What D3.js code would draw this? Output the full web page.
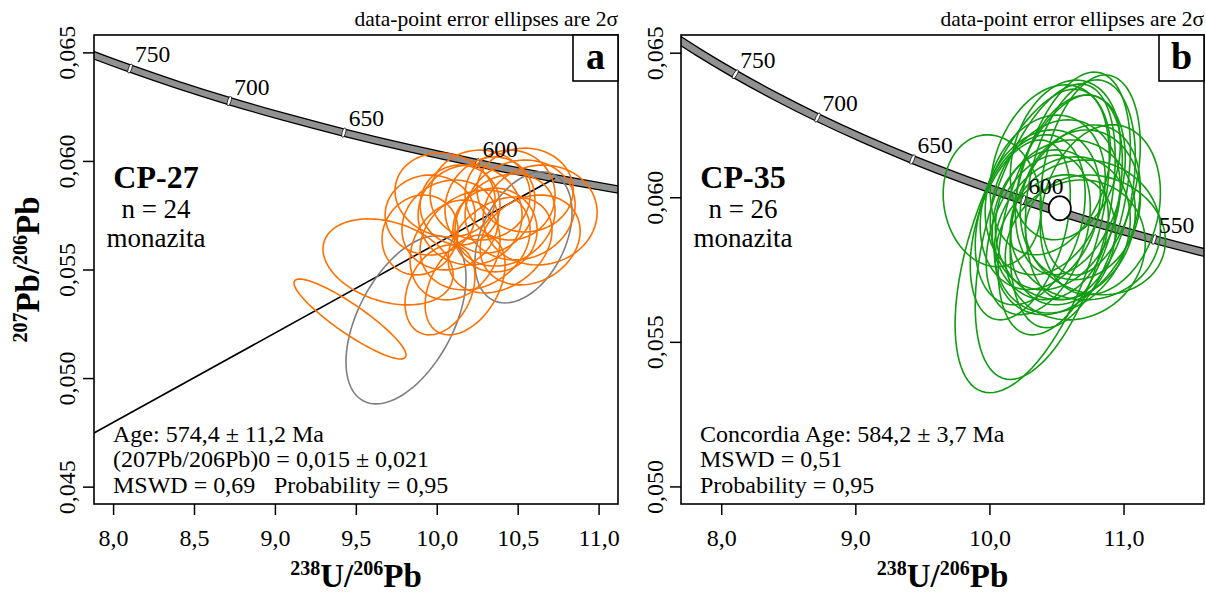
<!DOCTYPE html>
<html><head><meta charset="utf-8">
<script src="https://cdn.jsdelivr.net/npm/d3@7"></script>
<style>
body{margin:0;background:#fff}
svg{display:block}
text{font-family:"Liberation Serif","Times New Roman",serif;fill:#000}
</style>
</head><body>
<svg id="chart" width="1206" height="596"></svg>
<script>
// ---- Concordia curve (Tera-Wasserburg), values per age (Ma)
const concordiaAges = [525, 550, 575, 600, 625, 650, 675, 700, 725, 750, 775, 800];
const concordiaX = [11.7857, 11.2279, 10.7186, 10.2518, 9.8223, 9.4260, 9.0590, 8.7182, 8.4010, 8.1049, 7.8280, 7.5683];
const concordiaY = [0.057874, 0.058539, 0.059215, 0.059901, 0.060598, 0.061307, 0.062026, 0.062757, 0.063499, 0.064254, 0.065020, 0.065797];
const ageMarkers = [550, 600, 650, 700, 750];

// ---- Axis ticks
const xTicksA = [8.0, 8.5, 9.0, 9.5, 10.0, 10.5, 11.0];
const yTicksA = [0.045, 0.050, 0.055, 0.060, 0.065];
const xTicksB = [8.0, 9.0, 10.0, 11.0];
const yTicksB = [0.050, 0.055, 0.060, 0.065];

// ---- Panel a (CP-27): error ellipses [238U/206Pb, 207Pb/206Pb, 2s x, 2s y, rho]
const cp27Orange = [
  [9.464, 0.05272, 0.346, 0.00184, -0.9],
  [9.699, 0.05535, 0.402, 0.00198, -0.3],
  [10.082, 0.05705, 0.297, 0.00207, 0.1],
  [10.206, 0.05751, 0.321, 0.00230, 0.0],
  [10.329, 0.05797, 0.278, 0.00221, 0.1],
  [10.422, 0.05728, 0.309, 0.00212, 0.2],
  [10.515, 0.05774, 0.340, 0.00230, 0.1],
  [10.639, 0.05751, 0.352, 0.00230, 0.05],
  [10.113, 0.05590, 0.278, 0.00230, 0.2],
  [10.020, 0.05406, 0.216, 0.00207, 0.3],
  [10.175, 0.05429, 0.247, 0.00230, 0.4],
  [9.959, 0.05751, 0.278, 0.00184, 0.0],
  [10.051, 0.05843, 0.309, 0.00193, -0.1],
  [10.268, 0.05843, 0.309, 0.00207, 0.0],
  [10.453, 0.05843, 0.278, 0.00207, 0.0],
  [10.391, 0.05613, 0.321, 0.00221, 0.3],
  [10.237, 0.05636, 0.340, 0.00230, 0.2],
  [10.577, 0.05636, 0.309, 0.00207, 0.2],
  [9.897, 0.05659, 0.235, 0.00184, 0.1],
  [10.360, 0.05682, 0.260, 0.00193, 0.0],
  [10.144, 0.05797, 0.247, 0.00184, 0.0],
  [10.546, 0.05866, 0.297, 0.00193, 0.0]
];
const cp27Gray = [
  [9.810, 0.05268, 0.371, 0.00387, 0.5],
  [10.536, 0.05648, 0.300, 0.00302, 0.38]
];
const discordiaX = [7.882, 10.73];
const discordiaY = [0.04747, 0.05920];

// ---- Panel b (CP-35)
const cp35Green = [
  [10.319, 0.05849, 0.575, 0.00525, 0.55],
  [10.416, 0.05881, 0.522, 0.00511, 0.5],
  [10.603, 0.05991, 0.448, 0.00442, 0.4],
  [10.678, 0.06026, 0.410, 0.00380, 0.3],
  [10.528, 0.05939, 0.463, 0.00415, 0.45],
  [10.021, 0.05988, 0.366, 0.00228, -0.1],
  [10.379, 0.05957, 0.448, 0.00276, 0.2],
  [10.491, 0.05974, 0.485, 0.00294, 0.2],
  [10.566, 0.05922, 0.522, 0.00276, 0.1],
  [10.640, 0.05939, 0.485, 0.00311, 0.3],
  [10.454, 0.05905, 0.433, 0.00259, 0.1],
  [10.715, 0.05887, 0.560, 0.00242, 0.0],
  [10.790, 0.05870, 0.522, 0.00207, -0.1],
  [10.304, 0.05922, 0.410, 0.00294, 0.3],
  [10.416, 0.06008, 0.448, 0.00276, 0.2],
  [10.603, 0.06043, 0.410, 0.00311, 0.3],
  [10.543, 0.05870, 0.507, 0.00270, 0.2],
  [10.364, 0.05870, 0.388, 0.00276, 0.35],
  [10.678, 0.05974, 0.448, 0.00259, 0.1],
  [10.752, 0.06077, 0.373, 0.00346, 0.3],
  [10.491, 0.05836, 0.448, 0.00242, 0.2],
  [10.230, 0.05887, 0.373, 0.00311, 0.4],
  [10.640, 0.05818, 0.522, 0.00242, 0.1],
  [10.827, 0.05957, 0.448, 0.00294, 0.2],
  [10.454, 0.06095, 0.448, 0.00294, 0.25],
  [10.566, 0.06129, 0.410, 0.00276, 0.2]
];
const concordiaAgeB = [10.525, 0.05962, 0.082, 0.000415, 0.0];

// ---- Texts
const sampleA = ["CP-27", "n = 24", "monazita"];
const sampleB = ["CP-35", "n = 26", "monazita"];
const statsA = ["Age: 574,4 \u00b1 11,2 Ma", "(207Pb/206Pb)0 = 0,015 \u00b1 0,021", "MSWD = 0,69", "Probability = 0,95"];
const statsB = ["Concordia Age: 584,2 \u00b1 3,7 Ma", "MSWD = 0,51", "Probability = 0,95"];
const noteText = "data-point error ellipses are 2\u03c3";

const svg = d3.select("#chart");

function fmt(d, n) { return d.toFixed(n).replace(".", ","); }

function drawPanel(cfg) {
  const g = svg.append("g");
  const x = d3.scaleLinear().domain(cfg.xDomain).range([cfg.left, cfg.right]);
  const y = d3.scaleLinear().domain(cfg.yDomain).range([cfg.bottom, cfg.top]);

  const clipId = "clip-" + cfg.id;
  svg.append("clipPath").attr("id", clipId).append("rect")
    .attr("x", cfg.left).attr("y", cfg.top)
    .attr("width", cfg.right - cfg.left).attr("height", cfg.bottom - cfg.top);
  const plot = g.append("g").attr("clip-path", `url(#${clipId})`);

  // concordia band
  const pts = concordiaX.map((v, i) => [v, concordiaY[i]]);
  const line = d3.line().x(d => x(d[0])).y(d => y(d[1])).curve(d3.curveCatmullRom);
  plot.append("path").attr("d", line(pts)).attr("fill", "none")
    .attr("stroke", "#000").attr("stroke-width", cfg.band);
  plot.append("path").attr("d", line(pts)).attr("fill", "none")
    .attr("stroke", "#919191").attr("stroke-width", cfg.band - 2.6);

  // age markers + labels
  ageMarkers.forEach(a => {
    const i = concordiaAges.indexOf(a);
    const px = x(concordiaX[i]), py = y(concordiaY[i]);
    if (px < cfg.left + 2 || px > cfg.right - 2) return;
    const dxp = x(concordiaX[i + 1]) - x(concordiaX[i - 1]);
    const dyp = y(concordiaY[i + 1]) - y(concordiaY[i - 1]);
    const ang = Math.atan2(dyp, dxp) * 180 / Math.PI;
    plot.append("ellipse").attr("cx", 0).attr("cy", 0)
      .attr("rx", 1.7).attr("ry", cfg.band / 2 + 0.6)
      .attr("transform", `translate(${px},${py}) rotate(${ang})`)
      .attr("fill", "#fff").attr("stroke", "#000").attr("stroke-width", 0.7);
    g.append("text").attr("x", px + 5).attr("y", py - 6.5)
      .attr("font-size", 23.5).text(a);
  });

  // discordia line
  if (cfg.discordia) {
    plot.append("line")
      .attr("x1", x(discordiaX[0])).attr("y1", y(discordiaY[0]))
      .attr("x2", x(discordiaX[1])).attr("y2", y(discordiaY[1]))
      .attr("stroke", "#000").attr("stroke-width", 1.6);
  }

  // ellipses
  function ellipsePath(e) {
    const [cx, cy, sx, sy, r] = e;
    const n = 96, s = Math.sqrt(1 - r * r);
    const p = d3.range(n).map(k => {
      const t = 2 * Math.PI * k / n;
      return [x(cx + sx * Math.cos(t)), y(cy + sy * (r * Math.cos(t) + s * Math.sin(t)))];
    });
    return d3.line().curve(d3.curveLinearClosed)(p);
  }
  cfg.ellipseSets.forEach(set => {
    plot.selectAll(null).data(set.data).enter().append("path")
      .attr("d", ellipsePath).attr("fill", "none")
      .attr("stroke", set.color).attr("stroke-width", 1.6);
  });
  if (cfg.concAge) {
    plot.append("path").attr("d", ellipsePath(cfg.concAge))
      .attr("fill", "#fff").attr("stroke", "#000").attr("stroke-width", 1.8);
  }

  // frame
  g.append("rect").attr("x", cfg.left).attr("y", cfg.top)
    .attr("width", cfg.right - cfg.left).attr("height", cfg.bottom - cfg.top)
    .attr("fill", "none").attr("stroke", "#000").attr("stroke-width", 1.6);

  // panel letter box
  g.append("rect").attr("x", cfg.right - 45).attr("y", cfg.top)
    .attr("width", 45).attr("height", 46)
    .attr("fill", "#fff").attr("stroke", "#000").attr("stroke-width", 1.6);
  g.append("text").attr("x", cfg.right - 22.5).attr("y", cfg.top + 34)
    .attr("text-anchor", "middle").attr("font-size", 38).attr("font-weight", "bold")
    .text(cfg.letter);

  // axes
  const xAxis = d3.axisBottom(x).tickValues(cfg.xTicks).tickSize(11).tickPadding(14)
    .tickFormat(d => fmt(d, 1));
  const xg = g.append("g").attr("transform", `translate(0,${cfg.bottom})`).call(xAxis);
  xg.select(".domain").remove();
  xg.selectAll(".tick line").attr("stroke-width", 1.5);
  xg.selectAll(".tick text").attr("font-size", 24)
    .attr("font-family", "Liberation Serif, serif").attr("fill", "#000");

  const yAxis = d3.axisLeft(y).tickValues(cfg.yTicks).tickSize(11)
    .tickFormat(d => fmt(d, 3));
  const yg = g.append("g").attr("transform", `translate(${cfg.left},0)`).call(yAxis);
  yg.select(".domain").remove();
  yg.selectAll(".tick line").attr("stroke-width", 1.5);
  yg.selectAll(".tick text").attr("font-size", 24)
    .attr("font-family", "Liberation Serif, serif").attr("fill", "#000")
    .attr("transform", "rotate(-90)").attr("x", 0).attr("y", -cfg.yLabOff)
    .attr("dy", 0).attr("text-anchor", "middle");

  // x title
  const xt = g.append("text").attr("x", (cfg.left + cfg.right) / 2).attr("y", 587)
    .attr("text-anchor", "middle").attr("font-weight", "bold").attr("font-size", 33);
  xt.append("tspan").attr("font-size", 20).attr("dy", -12).text("238");
  xt.append("tspan").attr("dy", 12).text("U/");
  xt.append("tspan").attr("font-size", 20).attr("dy", -12).text("206");
  xt.append("tspan").attr("dy", 12).text("Pb");

  // top note
  g.append("text").attr("x", cfg.right).attr("y", 26).attr("text-anchor", "end")
    .attr("font-size", 21.5).text(noteText);

  // sample label
  const cxs = cfg.left + 62;
  g.append("text").attr("x", cxs).attr("y", 188).attr("text-anchor", "middle")
    .attr("font-size", 32).attr("font-weight", "bold").text(cfg.sample[0]);
  g.append("text").attr("x", cxs).attr("y", 218).attr("text-anchor", "middle")
    .attr("font-size", 27).text(cfg.sample[1]);
  g.append("text").attr("x", cxs).attr("y", 247).attr("text-anchor", "middle")
    .attr("font-size", 27).text(cfg.sample[2]);

  return {x, y, g};
}

const A = drawPanel({
  id: "a", letter: "a", left: 94, right: 618, top: 35, bottom: 504,
  xDomain: [7.882, 11.12], yDomain: [0.0442, 0.0658], band: 8.5,
  xTicks: xTicksA, yTicks: yTicksA, yLabOff: 19, discordia: true,
  ellipseSets: [{data: cp27Gray, color: "#7f7f7f"}, {data: cp27Orange, color: "#ff7000"}],
  sample: sampleA
});
const B = drawPanel({
  id: "b", letter: "b", left: 681, right: 1204, top: 35, bottom: 504,
  xDomain: [7.70, 11.60], yDomain: [0.049392, 0.065612], band: 9,
  xTicks: xTicksB, yTicks: yTicksB, yLabOff: 18, discordia: false,
  ellipseSets: [{data: cp35Green, color: "#129c12"}],
  concAge: concordiaAgeB, sample: sampleB
});

// stats texts
const fs = 24;
A.g.append("text").attr("x", 113).attr("y", 442).attr("font-size", fs).text(statsA[0]);
A.g.append("text").attr("x", 113).attr("y", 467).attr("font-size", fs).text(statsA[1]);
A.g.append("text").attr("x", 113).attr("y", 493).attr("font-size", fs).text(statsA[2]);
A.g.append("text").attr("x", 274).attr("y", 493).attr("font-size", fs).text(statsA[3]);
B.g.append("text").attr("x", 700).attr("y", 442).attr("font-size", fs).text(statsB[0]);
B.g.append("text").attr("x", 700).attr("y", 467).attr("font-size", fs).text(statsB[1]);
B.g.append("text").attr("x", 700).attr("y", 493).attr("font-size", fs).text(statsB[2]);

// y title (panel a)
const yt = svg.append("text").attr("transform", "translate(39,269.5) rotate(-90)")
  .attr("text-anchor", "middle").attr("font-weight", "bold").attr("font-size", 33);
yt.append("tspan").attr("font-size", 20).attr("dy", -12).text("207");
yt.append("tspan").attr("dy", 12).text("Pb/");
yt.append("tspan").attr("font-size", 20).attr("dy", -12).text("206");
yt.append("tspan").attr("dy", 12).text("Pb");
</script>
</body></html>
